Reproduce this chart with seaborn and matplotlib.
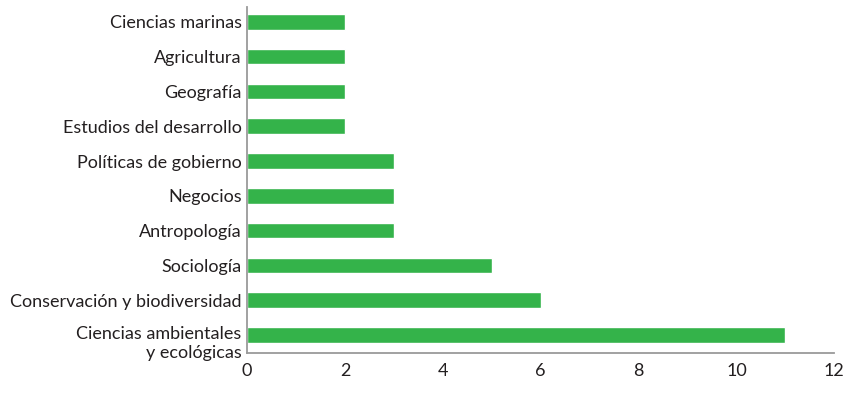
import pandas as pd
import numpy as np
import matplotlib
matplotlib.use("Agg")
import matplotlib.pyplot as plt
import matplotlib.transforms as mtransforms
import seaborn as sns

categorias = [
    "Ciencias marinas", "Agricultura", "Geografía", "Estudios del desarrollo",
    "Políticas de gobierno", "Negocios", "Antropología", "Sociología",
    "Conservación y biodiversidad", "Ciencias ambientales\ny ecológicas",
]
valores = [2, 2, 2, 2, 3, 3, 3, 5, 6, 11]
ticks_x = [0, 2, 4, 6, 8, 10, 12]

df = pd.DataFrame({"area": categorias, "n": valores})

sns.set_style("white")
plt.rcParams["font.family"] = ["Lato", "DejaVu Sans"]

fig = plt.figure(figsize=(8.61, 4.05), dpi=100)
ax = fig.add_axes([0.287, 0.128, 0.682, 0.855])

sns.barplot(data=df, x="n", y="area", orient="h", color="#34b34a",
            saturation=1, width=0.45, ax=ax)

ax.set_xlim(0, 12)
ax.set_ylim(9.52, -0.43)
ax.set_xticks(ticks_x)
ax.set_xlabel("")
ax.set_ylabel("")
ax.tick_params(axis="y", length=0, labelsize=13, colors="#231f20", pad=4)
ax.tick_params(axis="x", length=0, labelsize=13, colors="#231f20", pad=7)

for s in ["top", "right"]:
    ax.spines[s].set_visible(False)
for s in ["left", "bottom"]:
    ax.spines[s].set_color("#9a9a9a")
    ax.spines[s].set_linewidth(1.3)

fig.canvas.draw()
for tick in ax.yaxis.get_major_ticks():
    lab = tick.label1
    lab.set_multialignment("right")
    lab.set_linespacing(1.25)
    if "\n" in lab.get_text():
        # first line level with the bar, second line hangs below
        lab.set_verticalalignment("top")
        shift = mtransforms.ScaledTranslation(0, 9 / 100, fig.dpi_scale_trans)
        lab.set_transform(lab.get_transform() + shift)

fig.savefig("out.png", dpi=100)
